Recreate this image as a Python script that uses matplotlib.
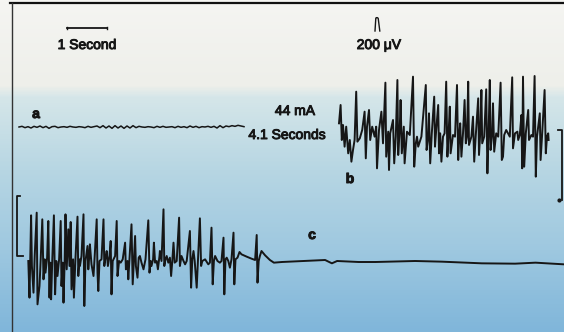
import numpy as np
import matplotlib
matplotlib.use("Agg")
import matplotlib.pyplot as plt
import matplotlib.patheffects as pe
from matplotlib.colors import LinearSegmentedColormap

# trace a: low-amplitude baseline before stimulation (uV, sampled every 0.075 s)
a_uv = [0, 10, -10, 5, -15, 10, -5, 15, -10, 10, -20, 5, 10, -10, 0, 5, -5, 10, 0, -5,
        5, 0, -10, 10, -5, 5, 15, -10, 20, -15, 15, -20, 20, -15, 15, -20, 15, -15, 20, -10,
        10, 0, -5, 5, 0, -10, 10, -5, 10, -5, 0, 5, -10, 10, -5, 5, -10, 15, -5, 10,
        -10, 5, 0, 10, -5, 10, -15, 20, -10, 15, 5, 20, 10, 25, 15, 5]

# trace b: afterdischarge following 44 mA / 4.1 s stimulus (s, uV)
b_t = [0.00, 0.04, 0.07, 0.10, 0.14, 0.18, 0.23, 0.27, 0.31, 0.35, 0.39, 0.43, 0.46, 0.52,
       0.58, 0.64, 0.67, 0.70, 0.75, 0.78, 0.83, 0.89, 0.93, 0.95, 1.00, 1.06, 1.10, 1.16,
       1.18, 1.23, 1.25, 1.28, 1.35, 1.38, 1.42, 1.46, 1.48, 1.52, 1.54, 1.57, 1.62, 1.64,
       1.70, 1.77, 1.85, 1.88, 1.92, 1.95, 1.98, 2.06, 2.17, 2.19, 2.23, 2.25, 2.28, 2.32,
       2.38, 2.40, 2.43, 2.48, 2.50, 2.53, 2.56, 2.60, 2.64, 2.68, 2.71, 2.74, 2.77, 2.79,
       2.85, 2.90, 2.95, 2.98, 3.01, 3.03, 3.06, 3.10, 3.14, 3.17, 3.20, 3.23, 3.25, 3.31,
       3.35, 3.38, 3.42, 3.48, 3.50, 3.53, 3.56, 3.58, 3.63, 3.68, 3.71, 3.74, 3.77, 3.79,
       3.83, 3.85, 3.88, 3.93, 3.98, 4.04, 4.07, 4.10, 4.13, 4.18, 4.27, 4.33, 4.35, 4.40,
       4.46, 4.48, 4.52, 4.56, 4.58, 4.60, 4.63, 4.67, 4.73, 4.75, 4.81, 4.85, 4.89, 4.92,
       4.95, 5.02, 5.04, 5.08, 5.14, 5.17, 5.20, 5.23, 5.24]
b_uv = [175, 450, -75, 150, -175, 125, -275, -75, -400, -225, -75, 650, -100, -50,
        75, 350, -350, 125, 375, -75, 125, -25, 125, -500, 75, 350, -125, 785,
        -325, 50, -525, 25, 225, -425, -25, 825, -300, 125, 525, -275, 125, -425,
        50, 0, 875, -475, -125, -25, -175, -25, 750, -225, -25, 325, -425, 25,
        575, -175, 75, 450, -275, 25, -400, -25, 25, 800, -325, 25, 425, -275,
        0, -25, 750, -375, 25, 175, -325, 25, 525, -125, -25, 800, -150, -25,
        275, -400, 0, 550, -300, 25, 675, -125, -25, 685, -575, 25, 825, -225,
        25, 475, -250, 25, -25, 785, -375, -325, 0, 75, -25, 865, -200, 25,
        50, -75, 0, 300, -500, 875, -475, 25, 375, -75, 0, -25, 885, -625,
        -25, 325, -375, 25, 675, -275, -25, 25, -75]

# trace c: seizure discharge ending, then flat record (s, uV)
c_t = [0.00, 0.03, 0.05, 0.07, 0.09, 0.13, 0.16, 0.21, 0.23, 0.28, 0.31, 0.35, 0.38, 0.41,
       0.43, 0.47, 0.50, 0.53, 0.55, 0.57, 0.60, 0.64, 0.67, 0.70, 0.73, 0.77, 0.81, 0.83,
       0.86, 0.88, 0.91, 0.93, 0.96, 0.98, 1.00, 1.03, 1.06, 1.08, 1.12, 1.14, 1.18, 1.23,
       1.25, 1.28, 1.29, 1.33, 1.38, 1.40, 1.43, 1.48, 1.50, 1.53, 1.54, 1.58, 1.63, 1.66,
       1.71, 1.73, 1.75, 1.78, 1.83, 1.88, 1.90, 1.93, 1.96, 1.99, 2.03, 2.06, 2.08, 2.11,
       2.13, 2.17, 2.21, 2.23, 2.27, 2.31, 2.36, 2.42, 2.44, 2.48, 2.50, 2.53, 2.58, 2.61,
       2.64, 2.67, 2.69, 2.73, 2.76, 2.79, 2.83, 2.88, 2.93, 3.00, 3.03, 3.06, 3.08, 3.12,
       3.14, 3.17, 3.21, 3.24, 3.28, 3.29, 3.33, 3.38, 3.40, 3.43, 3.46, 3.50, 3.54, 3.57,
       3.60, 3.63, 3.66, 3.71, 3.77, 3.79, 3.83, 3.88, 3.92, 3.96, 4.04, 4.07, 4.10, 4.13,
       4.16, 4.21, 4.24, 4.29, 4.32, 4.35, 4.42, 4.50, 4.54, 4.58, 4.61, 4.64, 4.67, 4.73,
       4.79, 4.83, 4.88, 4.90, 4.93, 4.96, 5.00, 5.04, 5.08, 5.13, 5.15, 5.18, 5.23, 5.28,
       5.33, 5.46, 5.58, 5.67, 5.71, 5.73, 5.76, 5.79, 5.83, 5.92, 6.04, 6.14, 6.34, 7.42,
       7.59, 7.72, 8.26, 8.68, 9.67, 10.34, 11.34, 12.17, 12.68, 13.39]
c_uv = [0, -550, 75, 685, -75, -475, 75, 725, -650, -375, 25, 625, -275, 25,
        -175, 50, 600, -550, -25, -575, 25, 685, -500, 0, -225, 25, 600, -375,
        -25, -625, 25, 700, -125, 175, 475, -75, 585, -425, 25, -550, 50, 665,
        -225, 25, -75, 75, 700, -675, 0, 225, -125, 125, 250, -50, -225, 75,
        625, -175, -450, 0, 25, 625, -75, 50, 150, -75, 75, 300, -500, 0,
        25, 75, 600, -225, 0, -25, 25, 275, -125, 0, -275, 25, 550, -350,
        25, 375, -75, -250, 50, 75, -25, -125, 25, 610, -175, 0, -75, 25,
        275, -25, 0, -125, 75, 150, 0, 775, -75, 25, 75, -25, 50, -225,
        0, 275, -25, 0, 650, -75, 75, 0, -50, 0, 450, -400, 25, 150,
        0, -400, 0, 640, -75, 0, 25, -50, -25, 500, -350, 0, 75, 0,
        -25, 0, 350, -500, 25, 50, 0, -100, 25, 425, -350, 25, 50, 135,
        100, 65, 35, 15, 390, -325, 0, 75, 150, 85, 15, -25, -15, 15,
        -35, 0, -15, -15, 0, -10, -35, -40, -25, -50]

# calibration pulse (200 uV)
cal_t = [0.00, 0.02, 0.03, 0.06, 0.08, 0.12]
cal_uv = [0, 190, 200, 200, 190, 0]

W, H = 564, 332
SEC_PX = 40.0   # pixels per second on the page
UV_PX = 15.0    # microvolts per pixel on the page


def px(x, y):
    return x / SEC_PX, -y * UV_PX


fig = plt.figure(figsize=(5.64, 3.32), dpi=100)
ax = fig.add_axes([0, 0, 1, 1])
ax.set_xlim(0, W / SEC_PX)
ax.set_ylim(-H * UV_PX, 0)
ax.axis("off")

# scanned-page background: paper white on top, blue wash below
bg = LinearSegmentedColormap.from_list("bg", [
    (0.0, "#f5f5f2"), (85 / H, "#eeefea"), (97 / H, "#d5e6e9"),
    (170 / H, "#b7d6e3"), (250 / H, "#9ec8e0"), (1.0, "#80b6da")])
ax.imshow(np.linspace(0, 1, H).reshape(-1, 1), cmap=bg, aspect="auto",
          extent=[0, W / SEC_PX, -H * UV_PX, 0], origin="upper", zorder=0)

ink = "#161616"

# frame lines
x0, y0 = px(10, 3)
x1, y1 = px(564, 3)
ax.plot([x0, x1], [y0, y1], color="#111111", lw=1.6, zorder=3)
x0, y0 = px(11.5, 3)
x1, y1 = px(11.5, 332)
ax.plot([x0, x1], [y0, y1], color="#333333", lw=1.0, zorder=3)

# traces
sx, sy = px(19, 127)
ax.plot(sx + np.arange(len(a_uv)) * 0.075, sy + np.array(a_uv), color=ink, lw=1.1, zorder=4)
sx, sy = px(339, 135)
ax.plot(sx + np.array(b_t), sy + np.array(b_uv), color=ink, lw=1.4, zorder=4)
sx, sy = px(28.3, 261)
ax.plot(sx + np.array(c_t), sy + np.array(c_uv), color=ink, lw=1.4, zorder=4)

# time scale bar (1 s)
sx, sy = px(67, 28)
ax.plot([sx, sx + 1], [sy, sy], color=ink, lw=1.3, zorder=4)
ax.plot([sx, sx], [sy - 20, sy + 20], color=ink, lw=1.0, zorder=4)
ax.plot([sx + 1, sx + 1], [sy - 20, sy + 20], color=ink, lw=1.0, zorder=4)

# amplitude calibration pulse
sx, sy = px(375, 31)
ax.plot(sx + np.array(cal_t), sy + np.array(cal_uv), color=ink, lw=1.0, zorder=4)

# stimulus brackets
bx, by0 = px(16.7, 196)
_, by1 = px(16.7, 256)
ax.plot([bx + 0.09, bx, bx, bx + 0.15], [by0, by0, by1, by1], color=ink, lw=1.3, zorder=4)
bx, by0 = px(561.5, 130)
_, by1 = px(561.5, 200)
ax.plot([bx - 0.08, bx, bx], [by0, by0, by1], color=ink, lw=1.3, zorder=4)
ax.plot([bx - 0.07], [by1], "o", color=ink, ms=2, zorder=4)

# scanned print looks heavier than a plain regular face
thick = [pe.withStroke(linewidth=0.7, foreground=ink)]
font = "Liberation Sans"
labels = [("1 Second", 87, 45, "normal"), ("200 μV", 379, 45, "normal"),
          ("44 mA", 295, 111, "normal"), ("4.1 Seconds", 287, 135, "normal"),
          ("a", 36, 114, "bold"), ("b", 350, 179, "bold"), ("c", 312, 235, "bold")]
for s, x, y, w in labels:
    tx, ty = px(x, y)
    ax.text(tx, ty, s, ha="center", va="center", fontsize=10, family=font,
            weight=w, color=ink, zorder=5, path_effects=thick)

fig.savefig("out.png", dpi=100)
